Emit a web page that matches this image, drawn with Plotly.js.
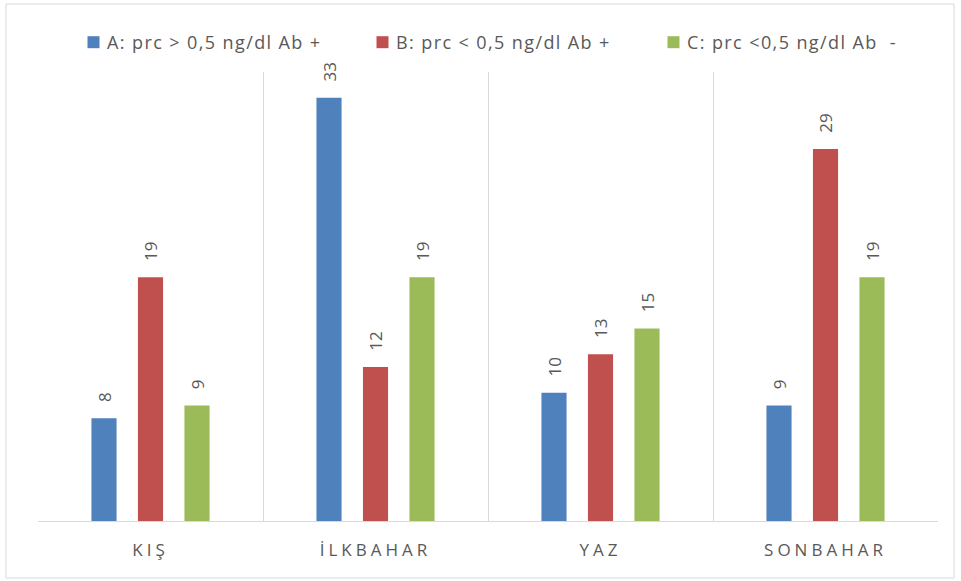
<!DOCTYPE html>
<html>
<head>
<meta charset="utf-8">
<script src="https://cdn.plot.ly/plotly-3.0.1.min.js"></script>
<style>
  html, body { margin: 0; padding: 0; background: #ffffff; }
  #chart { width: 961px; height: 581px; }
  /* spaced-out category labels */
  #chart .xtick text { letter-spacing: 4px; }
  /* legend: slightly wider text, swatch closer to its label */
  #chart .infolayer text { letter-spacing: 1.4px !important; }
  #chart .infolayer .scrollbox { clip-path: none !important; }
  #chart .legendpoints { transform: translate(6.5px, 0px); }
</style>
</head>
<body>
<div id="chart"></div>
<script>
// Seasons on the category axis
const seasons = ['KIŞ', 'İLKBAHAR', 'YAZ', 'SONBAHAR'];

// Series names
const nameA = 'A: prc > 0,5 ng/dl Ab +';
const nameB = 'B: prc < 0,5 ng/dl Ab +';
const nameC = 'C: prc <0,5 ng/dl Ab  -';

// Counts per season
const valuesA = [8, 33, 10, 9];
const valuesB = [19, 12, 13, 29];
const valuesC = [9, 19, 15, 19];

const colorA = '#4f81bd';
const colorB = '#c0504d';
const colorC = '#9bbb59';

const fontFamily = 'Open Sans, Liberation Sans, sans-serif';
const labelFont = { family: fontFamily, size: 17, color: '#595959' };

function series(name, values, color, legendId) {
  return {
    type: 'bar',
    name: name,
    x: seasons,
    y: values,
    legend: legendId,
    marker: { color: color },
    texttemplate: '\u00a0\u00a0\u00a0%{y}',
    textposition: 'outside',
    textangle: -90,
    constraintext: 'none',
    textfont: labelFont,
    cliponaxis: false,
    hoverinfo: 'skip'
  };
}

const data = [
  series(nameA, valuesA, colorA, 'legend'),
  series(nameB, valuesB, colorB, 'legend2'),
  series(nameC, valuesC, colorC, 'legend3')
];

const plotW = 900, plotH = 449, ml = 38, mt = 72;
const px2x = function (px) { return (px - ml) / plotW; };
const px2y = function (py) { return (mt + plotH - py) / plotH; };

function legendAt(px) {
  return {
    orientation: 'h',
    x: px2x(px),
    xanchor: 'left',
    y: px2y(42.5),
    yanchor: 'middle',
    font: { family: fontFamily, size: 18, color: '#595959' },
    bgcolor: 'rgba(0,0,0,0)',
    borderwidth: 0
  };
}

const layout = {
  width: 961,
  height: 581,
  margin: { l: ml, r: 961 - ml - plotW, t: mt, b: 581 - mt - plotH, pad: 0 },
  paper_bgcolor: '#ffffff',
  plot_bgcolor: '#ffffff',
  font: { family: fontFamily, color: '#595959' },
  barmode: 'group',
  bargap: 0.38,
  bargroupgap: 0.46,
  showlegend: true,
  legend: legendAt(67),
  legend2: legendAt(356),
  legend3: legendAt(647),
  xaxis: {
    type: 'category',
    tickson: 'boundaries',
    showgrid: true,
    gridcolor: '#d9d9d9',
    gridwidth: 1,
    showline: true,
    linecolor: '#d9d9d9',
    linewidth: 1,
    ticks: '',
    tickfont: { family: fontFamily, size: 17, color: '#595959' },
    ticklabelstandoff: 14,
    fixedrange: true
  },
  yaxis: {
    range: [0, 35],
    visible: false,
    showgrid: false,
    zeroline: false,
    fixedrange: true
  },
  shapes: [{
    type: 'rect',
    xref: 'paper', yref: 'paper',
    x0: px2x(6), x1: px2x(954), y0: px2y(578), y1: px2y(4),
    line: { color: '#d9d9d9', width: 1 },
    fillcolor: 'rgba(0,0,0,0)',
    layer: 'below'
  }]
};

Plotly.newPlot('chart', data, layout, { staticPlot: true });
</script>
</body>
</html>
